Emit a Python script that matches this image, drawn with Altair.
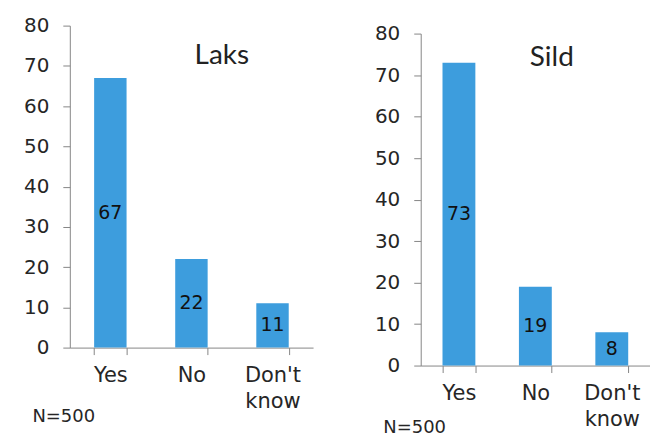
import altair as alt
import pandas as pd

categories = ["Yes", "No", "Don't know"]
laks = [67, 22, 11]
sild = [73, 19, 8]
y_ticks = [0, 10, 20, 30, 40, 50, 60, 70, 80]

BAR = "#3D9DDD"
AXC = "#868686"
TXT = "#262626"


def panel(values, name, w, h, pin, pout, tx, ty, nx, ny):
    df = pd.DataFrame({"answer": categories, "pct": values})
    yaxis = alt.Axis(
        values=y_ticks,
        title=name,
        titleAngle=0,
        titleX=tx,
        titleY=ty,
        titleAlign="center",
        titleBaseline="middle",
        titleFont="Lato",
        titleFontSize=28,
        titleFontWeight="normal",
        titleColor="#222222",
        labelFont="DejaVu Sans",
        labelFontSize=20,
        labelColor=TXT,
        labelPadding=14,
        tickSize=7,
        tickColor=AXC,
        domainColor=AXC,
        grid=False,
    )
    yscale = alt.Scale(domain=[0, 80])
    base = alt.Chart(df).encode(
        x=alt.X(
            "answer:N",
            sort=categories,
            scale=alt.Scale(paddingInner=pin, paddingOuter=pout),
            axis=alt.Axis(
                title="N=500",
                titleX=nx,
                titleY=ny,
                titleAlign="left",
                titleBaseline="middle",
                titleFont="DejaVu Sans",
                titleFontSize=18,
                titleFontWeight="normal",
                titleColor=TXT,
                labelAngle=0,
                labelExpr="split(datum.label, ' ')",
                labelFont="DejaVu Sans",
                labelFontSize=21,
                labelColor=TXT,
                labelLineHeight=26,
                labelPadding=10,
                labelBaseline="top",
                tickBand="extent",
                tickSize=7,
                tickColor=AXC,
                domainColor=AXC,
                grid=False,
            ),
        )
    )
    bars = base.mark_bar(color=BAR).encode(
        y=alt.Y("pct:Q", scale=yscale, axis=yaxis)
    )
    labels = base.transform_calculate(mid="datum.pct / 2").mark_text(
        font="DejaVu Sans", fontSize=19, color="#111111"
    ).encode(
        y=alt.Y("mid:Q", scale=yscale, axis=yaxis),
        text="pct:Q",
    )
    return alt.layer(bars, labels).properties(width=w, height=h)


left = panel(laks, "Laks", 244, 323, 0.6, 0.3, 152, 30, -38, 69)
right = panel(sild, "Sild", 230, 333, 0.57, 0.285, 131, 24, -38, 62)

spacer = (
    alt.Chart(pd.DataFrame({"s": [0]}))
    .mark_point(opacity=0, size=0)
    .properties(width=1, height=1)
)

chart = (
    alt.hconcat(left, alt.vconcat(spacer, right, spacing=-3), spacing=61)
    .properties(padding={"left": 15, "top": 7, "right": 0, "bottom": 0})
    .configure_view(strokeWidth=0)
)

chart.save("out.html", embed_options={"renderer": "svg", "actions": False})
